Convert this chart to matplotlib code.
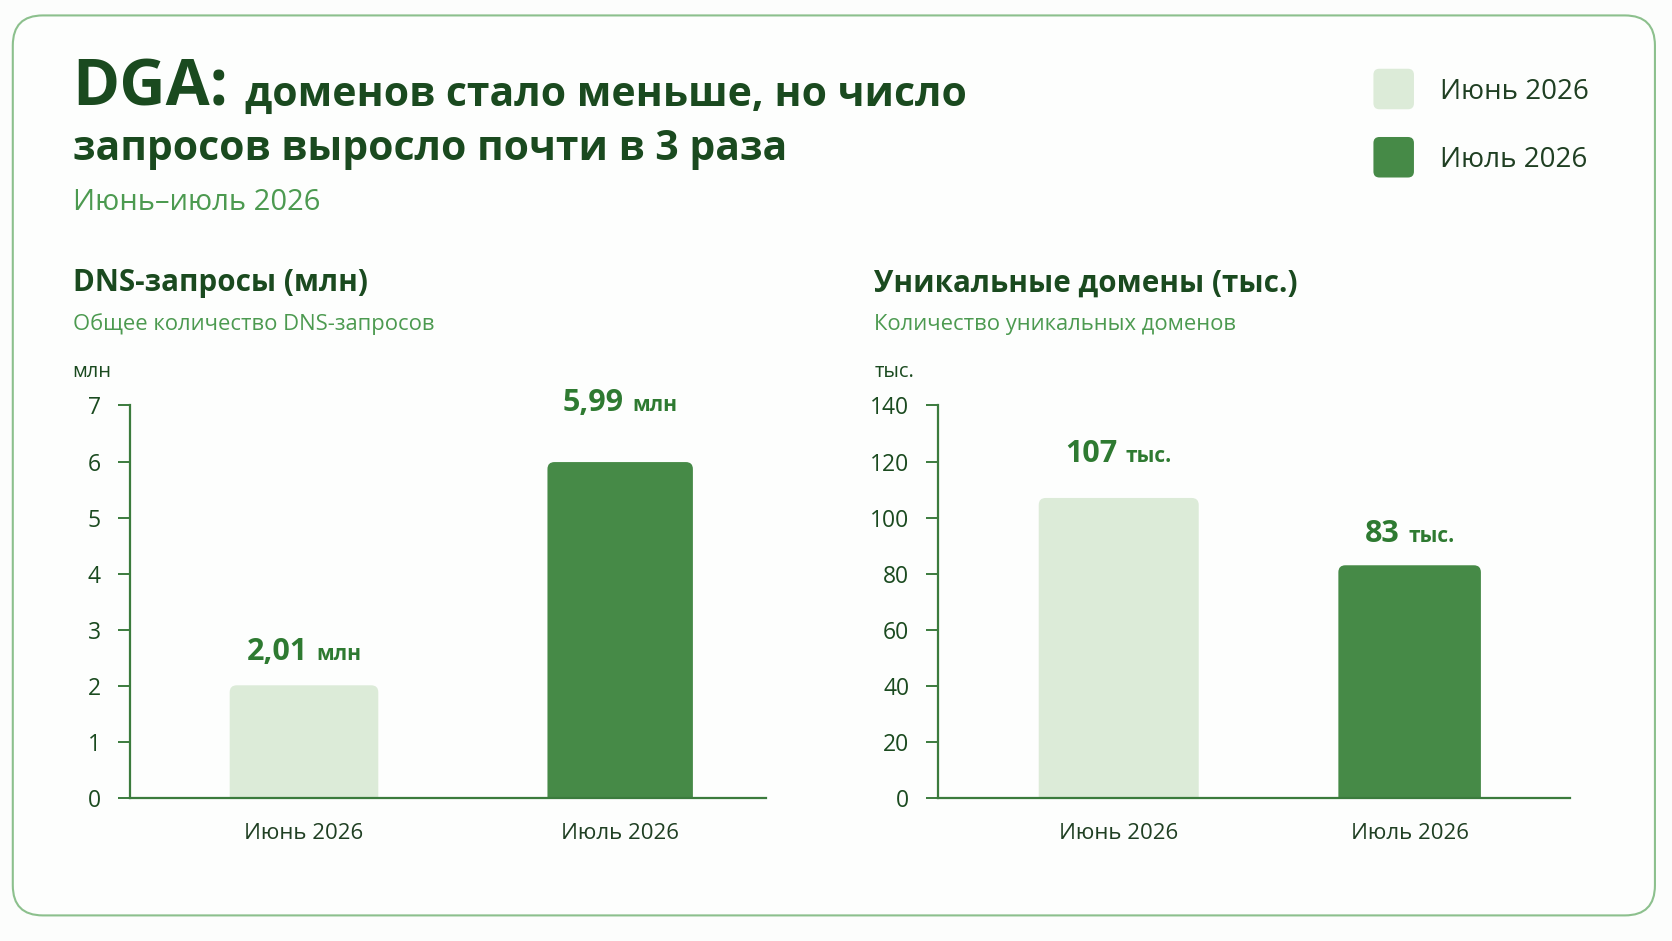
import matplotlib
matplotlib.use("Agg")
import matplotlib.pyplot as plt
from matplotlib import font_manager
from matplotlib.patches import FancyBboxPatch
from matplotlib.offsetbox import TextArea, HPacker, AnnotationBbox

# pick a family that has a real bold face
candidates = ['Noto Sans', 'Open Sans', 'Roboto', 'Inter', 'Liberation Sans', 'DejaVu Sans']
have_bold = {f.name for f in font_manager.fontManager.ttflist
             if (f.weight if isinstance(f.weight, int) else 700 if 'bold' in str(f.weight) else 400) >= 600}
family = next((c for c in candidates if c in have_bold), 'DejaVu Sans')
plt.rcParams['font.family'] = [family, 'DejaVu Sans']

# ---- data ----
months = ['Июнь 2026', 'Июль 2026']
dns_queries = [2.01, 5.99]          # млн
dns_labels = ['2,01', '5,99']
unique_domains = [107, 83]          # тыс.
domain_labels = ['107', '83']

# ---- colours ----
light = '#dcebd8'
dark = '#468a47'
axis_col = '#3b7b3d'
title_col = '#1a4a1f'
sub_col = '#4c9a50'
value_col = '#2e7a31'
text_col = '#1f3f22'

W, H = 1672, 941
fig = plt.figure(figsize=(W / 100, H / 100), dpi=100, facecolor='#fcfdfc')

# reference coords are read on a 1568x882 grid
sx = W / 1568.0

def fx(x):
    return x / 1568.0

def fy(y):
    return 1 - y / 882.0

# card border
card = FancyBboxPatch((12 * sx / 100, (882 - 858) * sx / 100),
                      1540 * sx / 100, 844 * sx / 100,
                      boxstyle='round,pad=0,rounding_size=0.3',
                      transform=fig.dpi_scale_trans,
                      facecolor='#fdfefd', edgecolor='#8cc08d', linewidth=1.5,
                      zorder=-5)
fig.patches.append(card)

# title
t1 = fig.text(fx(68), fy(99), 'DGA:', fontsize=46, fontweight='bold',
              color=title_col, va='baseline', ha='left')
fig.canvas.draw()
r = fig.canvas.get_renderer()
bb = t1.get_window_extent(r)
fig.text(bb.x1 / W + 0.010, fy(99), 'доменов стало меньше, но число',
         fontsize=29.4, fontweight='bold', color=title_col, va='baseline', ha='left')
fig.text(fx(68), fy(150), 'запросов выросло почти в 3 раза',
         fontsize=29.4, fontweight='bold', color=title_col, va='baseline', ha='left')
fig.text(fx(68), fy(197), 'Июнь–июль 2026', fontsize=21, color=sub_col,
         va='baseline', ha='left')

# legend
for i, (m, c) in enumerate(zip(months, [light, dark])):
    ytop = 64 + i * 64
    sq = FancyBboxPatch((1288 * sx / 100, (882 - ytop - 38) * sx / 100),
                        38 * sx / 100, 38 * sx / 100,
                        boxstyle='round,pad=0,rounding_size=0.06',
                        transform=fig.dpi_scale_trans,
                        facecolor=c, edgecolor='none')
    fig.patches.append(sq)
    fig.text(fx(1350), fy(ytop + 22), m, fontsize=20, color=text_col,
             va='center', ha='left')


def panel(left_px, right_px, title, subtitle, unit, values, labels, unit_lbl,
          ymax, yticks, xlim, label_offsets, widths):
    ax = fig.add_axes([fx(left_px), fy(748), fx(right_px - left_px), (748 - 380) / 882.0])
    ax.set_facecolor('none')
    x = list(range(len(values)))
    bars = ax.bar(x, values, width=widths, color=[light, dark], zorder=2)
    ax.set_ylim(0, ymax)
    ax.set_xlim(*xlim)
    ax.set_yticks(yticks)
    ax.set_xticks(x)
    ax.set_xticklabels(months)
    for s in ['top', 'right']:
        ax.spines[s].set_visible(False)
    for s in ['left', 'bottom']:
        ax.spines[s].set_color(axis_col)
        ax.spines[s].set_linewidth(1.6)
        ax.spines[s].set_zorder(3)
    ax.tick_params(axis='y', colors=axis_col, length=9, width=1.4, pad=12,
                   labelsize=16.5, labelcolor=title_col)
    ax.tick_params(axis='x', length=0, pad=18, labelsize=16, labelcolor=text_col)

    # rounded top corners: swap each bar for a rounded box of the same extent
    pw = fx(right_px - left_px) * W
    ph = (748 - 380) / 882.0 * H
    aspect = (ymax / ph) / ((xlim[1] - xlim[0]) / pw)
    rx = 7 * (xlim[1] - xlim[0]) / pw
    for b in bars:
        bx, by, bw, bh = b.get_x(), b.get_y(), b.get_width(), b.get_height()
        b.set_visible(False)
        rb = FancyBboxPatch((bx, by - rx * aspect), bw, bh + rx * aspect,
                            boxstyle='round,pad=0,rounding_size=%f' % rx,
                            mutation_aspect=aspect, facecolor=b.get_facecolor(),
                            edgecolor='none', zorder=2)
        ax.add_patch(rb)

    for xi, v, lb, off in zip(x, values, labels, label_offsets):
        num = TextArea(lb, textprops=dict(fontsize=22, fontweight='bold', color=value_col))
        un = TextArea(unit_lbl, textprops=dict(fontsize=15, fontweight='bold', color=value_col))
        box = HPacker(children=[num, un], pad=0, sep=6, align='baseline')
        ab = AnnotationBbox(box, (xi, v), xybox=(0, off), xycoords='data',
                            boxcoords='offset points', box_alignment=(0.5, 0),
                            frameon=False)
        ax.add_artist(ab)

    tx = fx(left_px - 54) if left_px < 500 else fx(left_px - 60)
    fig.text(tx, fy(273), title, fontsize=21.3, fontweight='bold', color=title_col,
             va='baseline', ha='left')
    fig.text(tx, fy(309), subtitle, fontsize=15.8, color=sub_col,
             va='baseline', ha='left')
    fig.text(tx, fy(353), unit, fontsize=14.5, color=title_col,
             va='baseline', ha='left')
    return ax


ax1 = panel(122, 718, 'DNS-запросы (млн)', 'Общее количество DNS-запросов', 'млн',
            dns_queries, dns_labels, 'млн', 7, range(0, 8), (-0.55, 1.46),
            [13, 32], [0.47, 0.46])

ax2 = panel(880, 1472, 'Уникальные домены (тыс.)', 'Количество уникальных доменов', 'тыс.',
            unique_domains, domain_labels, 'тыс.', 140, range(0, 141, 20), (-0.62, 1.55),
            [21, 12], [0.55, 0.49])

fig.savefig('out.png', dpi=100, facecolor=fig.get_facecolor())
